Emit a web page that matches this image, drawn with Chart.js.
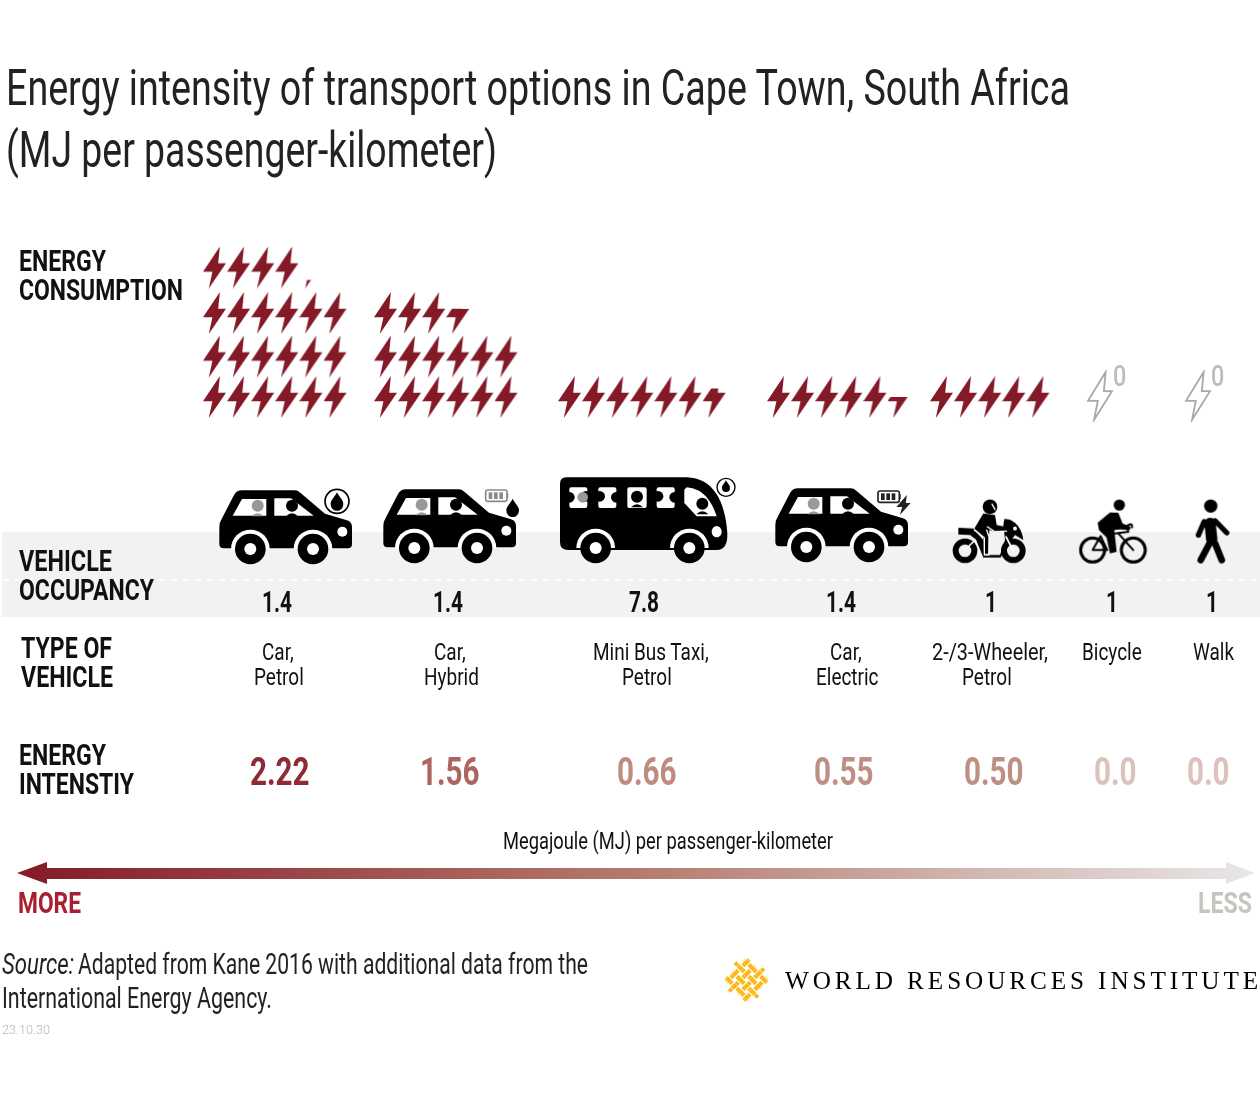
<!DOCTYPE html>
<html>
<head>
<meta charset="utf-8">
<title>Energy intensity of transport options</title>
<script src="https://cdn.jsdelivr.net/npm/chart.js@4"></script>
<style>
  html, body { margin: 0; padding: 0; background: #fff; }
  #wrap { position: relative; width: 1260px; height: 1100px; overflow: hidden; }
  #chart { position: absolute; left: 0; top: 0; }
  .t { position: absolute; white-space: pre; line-height: 1; transform-origin: 0 0; color: #111; }
</style>
</head>
<body>
<div id="wrap"><canvas id="chart" width="1260" height="1100"></canvas></div>
<script>
// data
const typeLabels = [['Car,', 'Petrol'], ['Car,', 'Hybrid'], ['Mini Bus Taxi,', 'Petrol'], ['Car,', 'Electric'], ['2-/3-Wheeler,', 'Petrol'], ['Bicycle'], ['Walk']];
const occupancy = ['1.4', '1.4', '7.8', '1.4', '1', '1', '1'];
const intensityLabels = ['2.22', '1.56', '0.66', '0.55', '0.50', '0.0', '0.0'];
const boltCounts = [22.2, 15.6, 6.7, 5.5, 5, 0, 0];
const boltsPerRow = [6, 6, 7, 6, 6, 1, 1];
const iconNames = ['carPetrol', 'carHybrid', 'bus', 'carElectric', 'moto', 'bike', 'walk'];

// layout
const RED = '#841a27';
const boltFirstX = [215, 386, 570, 779, 942, 1100, 1198];
const boltSpacing = 24.1;
const boltBaseY = 397;
const rowRise = [0, 40.5, 84, 129.5];
const iconX = [287, 451, 645, 843, 990, 1113.3, 1210.7];
const iconY = [519, 518, 518, 517, 531.7, 531.7, 531.7];
const occX = [277, 448, 644, 841, 991, 1112, 1212];
const typeX = [[278, 279], [450, 451], [651, 647], [846, 847], [990, 987], [1112], [1214]];
const valueX = [280, 450, 647, 844, 994, 1115, 1208];
const valueColors = ['#8f2a36', '#ad6560', '#bf8b80', '#c08f84', '#c08f84', '#dbc3bc', '#dbc3bc'];

function bolt(ctx, w, h) {
  ctx.beginPath();
  ctx.moveTo(w * .735, 0);
  ctx.lineTo(0, h * .6);
  ctx.lineTo(w * .41, h * .6);
  ctx.lineTo(w * .25, h);
  ctx.lineTo(w, h * .4);
  ctx.lineTo(w * .66, h * .4);
  ctx.closePath();
}

function boltImage(fraction) {
  const c = document.createElement('canvas');
  c.width = 24; c.height = 42;
  const g = c.getContext('2d');
  g.fillStyle = RED;
  // part bolts keep their lower part, as in the original
  g.beginPath();
  g.rect(0, 42 * (1 - fraction), 24, 42 * fraction);
  g.clip();
  bolt(g, 23, 42);
  g.fill();
  return c;
}

function emptyBoltImage() {
  const c = document.createElement('canvas');
  c.width = 28; c.height = 52;
  const g = c.getContext('2d');
  g.translate(2, 2);
  bolt(g, 24, 48);
  g.strokeStyle = '#a9a9a4';
  g.lineWidth = 1.8;
  g.stroke();
  return c;
}

// icons are sketched in 3x units and scaled down
function icon(w, h, draw) {
  const c = document.createElement('canvas');
  c.width = w; c.height = h;
  const g = c.getContext('2d');
  g.scale(1 / 3, 1 / 3);
  g.lineCap = 'round';
  g.lineJoin = 'round';
  draw(g);
  return c;
}

function poly(g, pts) {
  g.beginPath();
  pts.forEach((p, i) => i ? g.lineTo(p[0], p[1]) : g.moveTo(p[0], p[1]));
  g.closePath();
}

function circle(g, x, y, r, fill) {
  g.beginPath();
  g.arc(x, y, r, 0, Math.PI * 2);
  g.fillStyle = fill;
  g.fill();
}

function person(g, x, y, color) {
  circle(g, x, y, 18, color);
  g.fillStyle = color;
  g.beginPath();
  g.moveTo(x - 18, y + 32);
  g.quadraticCurveTo(x, y + 14, x + 18, y + 32);
  g.closePath();
  g.fill();
}

function wheel(g, x, y) {
  g.beginPath();
  g.arc(x, y, 58, Math.PI, 0);
  g.closePath();
  g.fillStyle = '#fff';
  g.fill();
  circle(g, x, y, 46, '#000');
  circle(g, x, y, 18, '#fff');
}

function drawCar(g) {
  g.fillStyle = '#000';
  g.beginPath();
  g.moveTo(125, 4);
  g.lineTo(283, 4);
  g.quadraticCurveTo(292, 4, 300, 11);
  g.lineTo(374, 74);
  g.lineTo(440, 94);
  g.quadraticCurveTo(455, 99, 455, 115);
  g.lineTo(455, 165);
  g.quadraticCurveTo(455, 178, 442, 178);
  g.lineTo(70, 178);
  g.quadraticCurveTo(57, 178, 57, 165);
  g.lineTo(57, 115);
  g.quadraticCurveTo(57, 100, 65, 88);
  g.lineTo(100, 20);
  g.quadraticCurveTo(108, 4, 125, 4);
  g.closePath();
  g.fill();
  g.fillStyle = '#fff';
  poly(g, [[125, 30], [198, 30], [198, 80], [97, 80]]);
  g.fill();
  poly(g, [[222, 28], [272, 28], [340, 80], [222, 80]]);
  g.fill();
  person(g, 172, 50, '#999');
  person(g, 275, 50, '#000');
  circle(g, 426, 128, 15, '#fff');
  wheel(g, 150, 180);
  wheel(g, 338, 180);
}

function drop(g, x, y, s, color) {
  g.beginPath();
  g.moveTo(x, y - s);
  g.bezierCurveTo(x + s * .3, y - s * .4, x + s * .75, y - s * .1, x + s * .7, y + s * .35);
  g.arc(x, y + s * .35, s * .7, 0, Math.PI);
  g.bezierCurveTo(x - s * .75, y - s * .1, x - s * .3, y - s * .4, x, y - s);
  g.closePath();
  g.fillStyle = color || '#000';
  g.fill();
}

function battery(g, x, y) {
  g.lineWidth = 5;
  g.beginPath();
  g.roundRect(x, y, 64, 34, 6);
  g.stroke();
  g.fillStyle = g.strokeStyle;
  [9, 25, 41].forEach(d => g.fillRect(x + d, y + 7, 11, 20));
  g.fillRect(x + 64, y + 10, 4, 14);
}

const icons = {
  carPetrol: () => icon(160, 100, g => {
    g.translate(-20, 60);
    drawCar(g);
    g.beginPath();
    g.arc(410, 37, 36, 0, Math.PI * 2);
    g.fillStyle = '#fff';
    g.fill();
    g.strokeStyle = '#000';
    g.lineWidth = 5;
    g.stroke();
    drop(g, 410, 37, 27);
  }),
  carHybrid: () => icon(160, 100, g => {
    g.translate(-20, 60);
    drawCar(g);
    g.strokeStyle = '#8a8a8a';
    battery(g, 364, 6);
    drop(g, 445, 57, 33, '#fff');
    drop(g, 445, 59, 27);
  }),
  carElectric: () => icon(160, 100, g => {
    g.translate(-20, 60);
    drawCar(g);
    g.strokeStyle = '#222';
    battery(g, 365, 12);
    g.save();
    g.translate(420, 24);
    g.fillStyle = '#222';
    bolt(g, 43, 60);
    g.fill();
    g.restore();
  }),
  bus: () => icon(190, 100, g => {
    g.translate(-30, -10);
    g.fillStyle = '#000';
    g.beginPath();
    g.moveTo(78, 38);
    g.lineTo(440, 38);
    g.bezierCurveTo(520, 40, 555, 110, 562, 205);
    g.quadraticCurveTo(564, 256, 530, 256);
    g.lineTo(85, 256);
    g.quadraticCurveTo(60, 256, 60, 232);
    g.lineTo(60, 58);
    g.quadraticCurveTo(60, 38, 78, 38);
    g.closePath();
    g.fill();
    // windows with a seat notch
    [88, 175, 262, 350].forEach((x, i) => {
      g.fillStyle = '#fff';
      g.beginPath();
      g.roundRect(x, 68, i === 2 ? 58 : 54, 62, 6);
      g.fill();
      if (i !== 2) {
        circle(g, x + (i === 0 ? 50 : 4), 95, 16, '#000');
        circle(g, x + (i === 0 ? 0 : 54), 98, 16, '#000');
      }
      if (i === 0) circle(g, x + 40, 98, 16, '#999');
    });
    person(g, 291, 96, '#000');
    g.fillStyle = '#fff';
    g.beginPath();
    g.moveTo(440, 68);
    g.bezierCurveTo(490, 72, 515, 110, 530, 155);
    g.lineTo(470, 155);
    g.lineTo(433, 115);
    g.lineTo(433, 75);
    g.closePath();
    g.fill();
    person(g, 487, 117, '#000');
    g.beginPath();
    g.ellipse(530, 201, 15, 17, 0, 0, Math.PI * 2);
    g.fillStyle = '#fff';
    g.fill();
    wheel(g, 167, 250);
    wheel(g, 448, 250);
    g.beginPath();
    g.arc(558, 68, 27, 0, Math.PI * 2);
    g.fillStyle = '#fff';
    g.fill();
    g.strokeStyle = '#000';
    g.lineWidth = 4;
    g.stroke();
    drop(g, 558, 64, 17);
  }),
  moto: () => icon(80, 70, g => {
    g.translate(-60, -50);
    g.strokeStyle = '#000';
    g.lineWidth = 18;
    [[105, 212], [250, 212]].forEach(p => {
      g.beginPath();
      g.arc(p[0], p[1], 28, 0, Math.PI * 2);
      g.stroke();
    });
    g.fillStyle = '#000';
    g.beginPath();
    g.moveTo(85, 143);
    g.lineTo(130, 145);
    g.lineTo(160, 180);
    g.lineTo(163, 225);
    g.lineTo(210, 225);
    g.lineTo(225, 180);
    g.lineTo(220, 135);
    g.lineTo(223, 117);
    g.bezierCurveTo(255, 115, 278, 150, 280, 180);
    g.lineTo(255, 165);
    g.lineTo(240, 185);
    g.lineTo(212, 232);
    g.lineTo(160, 232);
    g.lineTo(138, 178);
    g.lineTo(120, 165);
    g.lineTo(85, 163);
    g.closePath();
    g.fill();
    poly(g, [[133, 145], [160, 100], [195, 105], [200, 135], [225, 140], [230, 152], [195, 155], [178, 150], [175, 222], [160, 222], [160, 170]]);
    g.fill();
    circle(g, 180, 80, 22, '#000');
    circle(g, 255, 145, 6, '#fff');
    g.strokeStyle = '#fff';
    g.lineWidth = 4;
    g.beginPath();
    g.moveTo(133, 150);
    g.lineTo(163, 173);
    g.lineTo(163, 224);
    g.lineTo(177, 224);
    g.lineTo(177, 170);
    g.lineTo(170, 150);
    g.moveTo(172, 140);
    g.lineTo(195, 155);
    g.lineTo(230, 153);
    g.moveTo(186, 72);
    g.lineTo(195, 88);
    g.stroke();
    g.lineWidth = 5;
    g.beginPath();
    g.moveTo(130, 185);
    g.lineTo(102, 212);
    g.moveTo(228, 170);
    g.lineTo(250, 212);
    g.stroke();
  }),
  bike: () => icon(80, 70, g => {
    g.translate(-430, -50);
    g.strokeStyle = '#000';
    g.lineWidth = 9;
    [[488, 210], [610, 210]].forEach(p => {
      g.beginPath();
      g.arc(p[0], p[1], 36, 0, Math.PI * 2);
      g.stroke();
    });
    circle(g, 568, 75, 17, '#000');
    g.fillStyle = '#000';
    poly(g, [[503, 128], [540, 97], [565, 98], [578, 130], [602, 140], [600, 150], [570, 148], [553, 150], [560, 215], [540, 220], [530, 172], [507, 150]]);
    g.fill();
    g.lineWidth = 6;
    g.beginPath();
    g.moveTo(488, 210);
    g.lineTo(512, 168);
    g.lineTo(532, 210);
    g.closePath();
    g.moveTo(565, 160);
    g.lineTo(610, 210);
    g.moveTo(555, 160);
    g.lineTo(595, 155);
    g.lineTo(590, 138);
    g.quadraticCurveTo(608, 125, 606, 142);
    g.stroke();
  }),
  walk: () => icon(50, 70, g => {
    g.translate(-767, -50);
    circle(g, 842, 78, 20, '#000');
    g.strokeStyle = '#000';
    g.lineWidth = 34;
    g.beginPath();
    g.moveTo(840, 130);
    g.lineTo(845, 178);
    g.stroke();
    g.lineWidth = 16;
    g.beginPath();
    g.moveTo(822, 125);
    g.lineTo(805, 165);
    g.moveTo(855, 122);
    g.lineTo(890, 158);
    g.stroke();
    g.lineWidth = 20;
    g.beginPath();
    g.moveTo(838, 190);
    g.lineTo(812, 240);
    g.moveTo(855, 190);
    g.lineTo(875, 240);
    g.stroke();
  })
};

// one point per whole or part bolt
const boltPoints = [];
const boltStyles = [];
boltCounts.forEach((count, c) => {
  const perRow = boltsPerRow[c];
  for (let i = 0; i < Math.ceil(count); i++) {
    const row = Math.floor(i / perRow);
    const col = i % perRow;
    // bottom rows fill first, the top row takes the remainder
    boltPoints.push({ x: boltFirstX[c] + col * boltSpacing, y: boltBaseY - rowRise[row] });
    boltStyles.push(boltImage(Math.min(1, count - i)));
  }
});

const zeroPoints = [];
boltCounts.forEach((v, c) => { if (v === 0) zeroPoints.push({ x: boltFirstX[c], y: 396 }); });

const iconPoints = iconNames.map((n, c) => ({ x: iconX[c], y: iconY[c] }));
const iconStyles = iconNames.map(n => icons[n]());

function drawLogo(ctx) {
  ctx.save();
  ctx.translate(746.5, 980);
  ctx.rotate(Math.PI / 4);
  const p = 8.4, t = 4.2, half = 16.2;
  ctx.fillStyle = '#fdb714';
  for (let j = 0; j < 4; j++) {
    const k = (j - 1.5) * p;
    ctx.fillRect(-half, k - t / 2, half * 2, t);
    ctx.fillRect(k - t / 2, -half, t, half * 2);
  }
  // over and under at the crossings
  for (let i = 0; i < 4; i++) {
    for (let j = 0; j < 4; j++) {
      const cx = (i - 1.5) * p, cy = (j - 1.5) * p;
      const vertical = (i + j) % 2 === 0;
      ctx.fillStyle = '#fff';
      if (vertical) ctx.fillRect(cx - t / 2 - 1.2, cy - t / 2, t + 2.4, t);
      else ctx.fillRect(cx - t / 2, cy - t / 2 - 1.2, t, t + 2.4);
      ctx.fillStyle = '#fdb714';
      ctx.fillRect(cx - t / 2, cy - t / 2, t, t);
    }
  }
  // small loose squares along the sides
  [[-18.6, -4.2], [4.2, -18.6], [18.6, 4.2], [-4.2, 18.6]].forEach(n => {
    ctx.fillRect(n[0] - 1.9, n[1] - 1.9, 3.8, 3.8);
  });
  ctx.restore();
}

// page furniture under the marks: grey band, dashed rule, arrow, logo
const furniture = {
  id: 'furniture',
  beforeDatasetsDraw(chart) {
    const ctx = chart.ctx;
    ctx.save();
    ctx.fillStyle = '#f2f2f2';
    ctx.fillRect(2, 532, 1258, 85);
    ctx.strokeStyle = '#fff';
    ctx.lineWidth = 1.5;
    ctx.setLineDash([7, 5]);
    ctx.beginPath();
    ctx.moveTo(2, 580);
    ctx.lineTo(1260, 580);
    ctx.stroke();
    ctx.setLineDash([]);

    const grad = ctx.createLinearGradient(17, 0, 1255, 0);
    grad.addColorStop(0, '#841a27');
    grad.addColorStop(0.5, '#b57a6e');
    grad.addColorStop(1, '#e8e8e8');
    ctx.fillStyle = grad;
    ctx.beginPath();
    ctx.moveTo(17, 873);
    ctx.lineTo(47, 862);
    ctx.lineTo(47, 868);
    ctx.lineTo(1226, 868);
    ctx.lineTo(1226, 862);
    ctx.lineTo(1255, 873);
    ctx.lineTo(1226, 884);
    ctx.lineTo(1226, 879);
    ctx.lineTo(47, 879);
    ctx.lineTo(47, 884);
    ctx.closePath();
    ctx.fill();
    ctx.restore();
    drawLogo(ctx);
  }
};

new Chart(document.getElementById('chart'), {
  type: 'scatter',
  data: {
    datasets: [
      { label: 'Energy consumption', data: boltPoints, pointStyle: boltStyles, pointRadius: 12 },
      { label: 'No consumption', data: zeroPoints, pointStyle: emptyBoltImage(), pointRadius: 12 },
      { label: 'Vehicles', data: iconPoints, pointStyle: iconStyles, pointRadius: 40 }
    ]
  },
  options: {
    responsive: false,
    animation: false,
    events: [],
    layout: { padding: 0, autoPadding: false },
    plugins: { legend: { display: false }, tooltip: { enabled: false } },
    scales: {
      x: { type: 'linear', min: 0, max: 1260, display: false },
      y: { type: 'linear', min: 0, max: 1100, reverse: true, display: false }
    }
  },
  plugins: [furniture]
});

// text, squeezed to the measured width of the original
const wrap = document.getElementById('wrap');
function put(str, o) {
  const el = document.createElement('div');
  el.className = 't';
  el.textContent = str;
  el.style.fontFamily = o.font || '"Roboto", sans-serif';
  el.style.fontWeight = o.weight || 300;
  el.style.fontSize = o.size + 'px';
  if (o.color) el.style.color = o.color;
  if (o.style) el.style.fontStyle = o.style;
  if (o.spacing) el.style.letterSpacing = o.spacing + 'px';
  el.style.top = o.top + 'px';
  wrap.appendChild(el);
  const w = el.getBoundingClientRect().width;
  const sx = o.width ? o.width / w : (o.squeeze || 0.78);
  const shown = w * sx;
  const left = o.center !== undefined ? o.center - shown / 2 : o.left;
  el.style.left = left + 'px';
  el.style.transform = 'scaleX(' + sx + ')';
}

const HEAD = { weight: 700, size: 29 };
put('Energy intensity of transport options in Cape Town, South Africa', { left: 6, top: 63, size: 50, width: 1064, weight: 400, color: '#222' });
put('(MJ per passenger-kilometer)', { left: 6, top: 125, size: 50, width: 491, weight: 400, color: '#222' });
put('ENERGY', { ...HEAD, left: 19, top: 247, width: 87 });
put('CONSUMPTION', { ...HEAD, left: 19, top: 276, width: 164 });
put('VEHICLE', { ...HEAD, left: 19, top: 547, width: 93 });
put('OCCUPANCY', { ...HEAD, left: 19, top: 576, width: 135 });
put('TYPE OF', { ...HEAD, left: 21, top: 634, width: 91 });
put('VEHICLE', { ...HEAD, left: 21, top: 663, width: 92 });
put('ENERGY', { ...HEAD, left: 19, top: 741, width: 87 });
put('INTENSTIY', { ...HEAD, left: 19, top: 770, width: 115 });

occupancy.forEach((t, c) => put(t, { center: occX[c], top: 588, size: 29, weight: 700, squeeze: 0.72 }));
typeLabels.forEach((lines, c) => lines.forEach((t, i) => {
  put(t, { center: typeX[c][i], top: 640 + i * 25, size: 24, weight: 400, squeeze: 0.79, width: t.startsWith('2-') ? 116 : 0 });
}));
intensityLabels.forEach((t, c) => put(t, { center: valueX[c], top: 753, size: 38, weight: 700, color: valueColors[c], squeeze: 0.78 }));
[1120, 1218].forEach(x => put('0', { center: x, top: 361, size: 30, color: '#bdbdb8', weight: 500 }));

put('Megajoule (MJ) per passenger-kilometer', { left: 503, top: 829, size: 24, width: 330, weight: 400 });
put('MORE', { left: 18, top: 888, size: 30, weight: 700, width: 63, color: '#a8202f' });
put('LESS', { left: 1198, top: 888, size: 30, weight: 700, width: 54, color: '#c5c5bf' });
put('Source:', { left: 2, top: 950, size: 29, width: 72, style: 'italic', weight: 400, color: '#222' });
put('Adapted from Kane 2016 with additional data from the', { left: 78, top: 950, size: 29, width: 510, weight: 400, color: '#222' });
put('International Energy Agency.', { left: 2, top: 984, size: 29, width: 270, weight: 400, color: '#222' });
put('23.10.30', { left: 2, top: 1023, size: 13, width: 48, color: '#b5b5b5' });
put('WORLD RESOURCES INSTITUTE', { left: 785, top: 968, size: 26, font: '"Liberation Serif", serif', weight: 400, width: 477, spacing: 4, color: '#000' });
</script>
</body>
</html>
